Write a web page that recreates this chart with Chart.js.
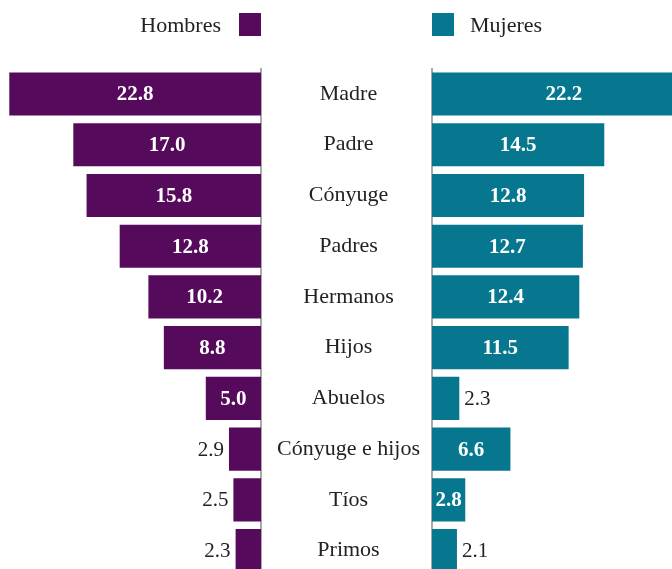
<!DOCTYPE html>
<html>
<head>
<meta charset="UTF-8">
<title>Hombres y Mujeres</title>
<script src="https://cdn.jsdelivr.net/npm/chart.js"></script>
<style>
    body { margin: 0; width: 672px; height: 569px; overflow: hidden; background: #fff; position: relative; }
    #izq { position: absolute; left: 0; top: 0; }
    #der { position: absolute; left: 261px; top: 0; }
</style>
</head>
<body>
    <canvas id="izq" width="264" height="576"></canvas>
    <canvas id="der" width="411" height="576"></canvas>

    <script>
        // datos
        const categorias = ['Madre', 'Padre', 'Cónyuge', 'Padres', 'Hermanos', 'Hijos', 'Abuelos', 'Cónyuge e hijos', 'Tíos', 'Primos'];
        const hombres = [22.8, 17.0, 15.8, 12.8, 10.2, 8.8, 5.0, 2.9, 2.5, 2.3];
        const mujeres = [22.2, 14.5, 12.8, 12.7, 12.4, 11.5, 2.3, 6.6, 2.8, 2.1];

        const morado = '#560a5b';
        const azul = '#07778f';
        const gris = '#aaaaaa';
        const fuente = "'Liberation Serif', serif";
        Chart.defaults.font.family = fuente;

        // etiquetas de valor y leyenda dibujadas en el canvas
        const etiquetas = {
            id: 'etiquetas',
            afterDatasetsDraw(chart) {
                const ctx = chart.ctx;
                const ds = chart.data.datasets[0];
                const izquierda = chart.options.scales.x.reverse;
                chart.getDatasetMeta(0).data.forEach((barra, i) => {
                    const texto = ds.data[i].toFixed(1);
                    const ancho = Math.abs(barra.x - barra.base);
                    const dir = Math.sign(barra.x - barra.base);
                    ctx.save();
                    ctx.textBaseline = 'middle';
                    if (ancho >= 33) {
                        ctx.font = 'bold 21px ' + fuente;
                        ctx.fillStyle = '#ffffff';
                        ctx.textAlign = 'center';
                        ctx.fillText(texto, (barra.x + barra.base) / 2, barra.y + 1);
                    } else {
                        ctx.font = '21px ' + fuente;
                        ctx.fillStyle = '#222222';
                        ctx.textAlign = dir < 0 ? 'right' : 'left';
                        ctx.fillText(texto, barra.x + dir * 5, barra.y + 1);
                    }
                    ctx.restore();
                });

                // leyenda
                const area = chart.chartArea;
                ctx.save();
                ctx.font = '22px ' + fuente;
                ctx.fillStyle = '#222222';
                ctx.textBaseline = 'middle';
                if (izquierda) {
                    ctx.textAlign = 'right';
                    ctx.fillText(ds.label, area.right - 40, 26);
                    ctx.fillStyle = ds.backgroundColor;
                    ctx.fillRect(area.right - 22, 13, 22, 23);
                } else {
                    ctx.textAlign = 'left';
                    ctx.fillText(ds.label, area.left + 38, 26);
                    ctx.fillStyle = ds.backgroundColor;
                    ctx.fillRect(area.left, 13, 22, 23);
                }
                ctx.restore();
            }
        };

        function config(nombre, valores, color, izquierda) {
            return {
                type: 'bar',
                data: {
                    labels: categorias,
                    datasets: [{
                        label: nombre,
                        data: valores,
                        backgroundColor: color,
                        categoryPercentage: 1,
                        barPercentage: 0.85
                    }]
                },
                options: {
                    indexAxis: 'y',
                    responsive: false,
                    animation: false,
                    layout: { padding: { top: 68.6, bottom: 0, left: 0, right: izquierda ? 3 : 0 } },
                    plugins: { legend: { display: false }, tooltip: { enabled: false } },
                    scales: {
                        x: {
                            display: false,
                            min: 0,
                            max: izquierda ? 23.64 : 20.2,
                            reverse: izquierda
                        },
                        y: {
                            position: izquierda ? 'right' : 'left',
                            grid: { display: false, drawTicks: false },
                            border: { display: true, color: gris, width: 2 },
                            ticks: {
                                display: !izquierda,
                                crossAlign: 'center',
                                padding: 12,
                                color: '#222222',
                                font: { family: fuente, size: 22 }
                            },
                            afterFit(escala) {
                                escala.width = izquierda ? 0 : 171;
                                escala.paddingTop = 0;
                                escala.paddingBottom = 0;
                            }
                        }
                    }
                },
                plugins: [etiquetas]
            };
        }

        new Chart(document.getElementById('izq'), config('Hombres', hombres, morado, true));
        new Chart(document.getElementById('der'), config('Mujeres', mujeres, azul, false));
    </script>
</body>
</html>
